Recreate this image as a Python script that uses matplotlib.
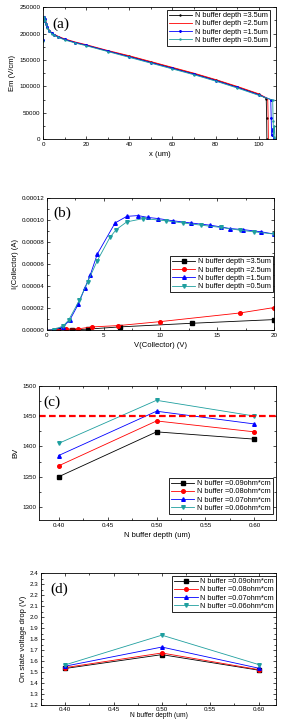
import numpy as np
import matplotlib
matplotlib.use("Agg")
import matplotlib.pyplot as plt
import matplotlib.ticker as ticker

plt.rcParams['font.family'] = ['Liberation Sans', 'DejaVu Sans']

COLORS = ['black', 'red', 'blue', '#1f9f9f']

# (a) electric field along x
depth_labels = ["N buffer depth =3.5um", "N buffer depth =2.5um",
                "N buffer depth =1.5um", "N buffer depth =0.5um"]
x_35 = [0, 0.3, 0.6, 1, 1.5, 2, 3, 4, 5, 7, 10, 15, 20, 30, 40, 50, 60, 70, 80, 90, 100, 103.5, 103.7, 103.8]
em_35 = [188000, 224000, 232000, 227000, 219000, 212000, 205000, 201000, 198000, 194000, 189000, 183000,
         178000, 167000, 157000, 146000, 135000, 124000, 112000, 99000, 85000, 77000, 40000, 0]
x_25 = [0, 0.3, 0.6, 1, 1.5, 2, 3, 4, 5, 7, 10, 15, 20, 30, 40, 50, 60, 70, 80, 90, 100, 104.2, 104.4, 104.5]
em_25 = [189000, 225000, 233000, 228000, 220000, 213000, 206000, 202000, 199000, 195000, 190000, 184000,
         179000, 168000, 158000, 147000, 136000, 125000, 113000, 100000, 86000, 77000, 38000, 0]
x_15 = [0, 0.3, 0.6, 1, 1.5, 2, 3, 4, 5, 7, 10, 15, 20, 30, 40, 50, 60, 70, 80, 90, 100, 105.6, 105.8, 106.0, 106.5, 107.0]
em_15 = [187000, 224000, 232000, 227000, 219000, 212000, 205000, 201000, 198000, 194000, 189000, 183000,
         178000, 167000, 156000, 145000, 134000, 123000, 111000, 98000, 84000, 75000, 40000, 8000, 20000, 0]
x_05 = [0, 0.3, 0.6, 1, 1.5, 2, 3, 4, 5, 7, 10, 15, 20, 30, 40, 50, 60, 70, 80, 90, 100, 106.5, 106.7, 106.9, 107.3, 107.6]
em_05 = [186000, 223000, 231000, 226000, 218000, 211000, 204000, 200000, 197000, 193000, 188000, 182000,
         177000, 166000, 155000, 144000, 133000, 122000, 110000, 97000, 83000, 74000, 35000, 5000, 25000, 0]

# (b) collector current vs collector voltage
v_35 = [0, 1.0, 2.2, 3.6, 6.4, 12.8, 20]
i_35 = [0, 0.01e-5, 0.03e-5, 0.1e-5, 0.3e-5, 0.63e-5, 0.96e-5]
v_25 = [0, 0.85, 1.7, 2.7, 4.0, 6.3, 10.0, 17.0, 20.0]
i_25 = [0, 0.06e-5, 0.1e-5, 0.12e-5, 0.3e-5, 0.42e-5, 0.78e-5, 1.56e-5, 2.05e-5]
v_15 = [0, 0.56, 1.44, 2.03, 2.76, 3.35, 3.8, 4.44, 6.0, 7.03, 8.03, 8.9, 9.8, 11.1, 12.7, 14.4,
        15.3, 16.1, 17.3, 18.9, 20.0]
i_15 = [0, 0.03e-5, 0.3e-5, 0.96e-5, 2.35e-5, 3.85e-5, 4.96e-5, 6.9e-5, 9.7e-5, 10.3e-5, 10.37e-5,
        10.2e-5, 10.1e-5, 9.9e-5, 9.7e-5, 9.5e-5, 9.35e-5, 9.2e-5, 9.1e-5, 8.9e-5, 8.7e-5]
v_05 = [0, 0.6, 1.44, 1.9, 2.85, 3.6, 4.44, 5.55, 6.1, 7.03, 8.5, 10.5, 12.0, 13.6, 15.3, 17.0, 18.2, 20.0]
i_05 = [0, 0.03e-5, 0.4e-5, 0.9e-5, 2.7e-5, 4.4e-5, 6.3e-5, 8.4e-5, 9.1e-5, 9.8e-5, 10.1e-5, 9.9e-5,
        9.7e-5, 9.5e-5, 9.3e-5, 9.05e-5, 8.9e-5, 8.7e-5]

# (c), (d) breakdown voltage and on-state drop vs buffer depth
res_labels = ["N buffer =0.09ohm*cm", "N buffer =0.08ohm*cm",
              "N buffer =0.07ohm*cm", "N buffer =0.06ohm*cm"]
depth = [0.40, 0.50, 0.60]
bv = [[1350, 1424, 1412],
      [1368, 1442, 1424],
      [1385, 1458, 1437],
      [1405, 1476, 1450]]
bv_limit = 1450
von = [[1.532, 1.658, 1.517],
       [1.540, 1.673, 1.522],
       [1.553, 1.727, 1.535],
       [1.565, 1.835, 1.568]]

MARKERS = ['s', 'o', '^', 'v']


def style(ax):
    ax.tick_params(which='both', direction='in', top=True, right=True, labelsize=4.5,
                   width=0.5, pad=2)
    ax.tick_params(which='major', length=2.5)
    ax.tick_params(which='minor', length=1.3)
    for s in ax.spines.values():
        s.set_linewidth(0.6)


def panel_label(ax, txt, x, y):
    ax.text(x, y, txt, transform=ax.transAxes, fontsize=11, family='Liberation Serif',
            va='center', ha='left')


def legend(ax, labels_loc, anchor):
    leg = ax.legend(loc=labels_loc, bbox_to_anchor=anchor, fontsize=5.3, frameon=True,
                    fancybox=False, edgecolor='black', framealpha=1, handlelength=3.2,
                    handletextpad=0.4, labelspacing=0.15, borderpad=0.25, borderaxespad=0)
    leg.get_frame().set_linewidth(0.6)


fig = plt.figure(figsize=(2.83, 7.21), dpi=100)

# (a)
axa = fig.add_axes([0.152, 0.807, 0.823, 0.183])
xs = [x_35, x_25, x_15, x_05]
ys = [em_35, em_25, em_15, em_05]
mk_a = ['+', '', '*', '.']
for i in range(4):
    axa.plot(xs[i], ys[i], color=COLORS[i], lw=0.6, marker=mk_a[i] if mk_a[i] else None,
             ms=1.5, label=depth_labels[i])
axa.set_xlim(0, 108)
axa.set_ylim(0, 250000)
axa.xaxis.set_major_locator(ticker.MultipleLocator(20))
axa.xaxis.set_minor_locator(ticker.MultipleLocator(10))
axa.yaxis.set_major_locator(ticker.MultipleLocator(50000))
axa.yaxis.set_minor_locator(ticker.MultipleLocator(25000))
axa.set_xlabel("x (um)", fontsize=5.5, labelpad=3)
axa.set_ylabel("Em (V/cm)", fontsize=5.5, labelpad=2)
style(axa)
legend(axa, 'upper right', (0.974, 0.977))
panel_label(axa, "(a)", 0.04, 0.87)

# (b)
axb = fig.add_axes([0.166, 0.542, 0.802, 0.184])
vs = [v_35, v_25, v_15, v_05]
cur = [i_35, i_25, i_15, i_05]
for i in range(4):
    axb.plot(vs[i], cur[i], color=COLORS[i], lw=0.6, marker=MARKERS[i], ms=2.6,
             markevery=list(range(1, len(vs[i]))), label=depth_labels[i])
axb.set_xlim(0, 20)
axb.set_ylim(0, 0.00012)
axb.xaxis.set_major_locator(ticker.MultipleLocator(5))
axb.xaxis.set_minor_locator(ticker.MultipleLocator(2.5))
axb.yaxis.set_major_locator(ticker.MultipleLocator(0.00002))
axb.yaxis.set_minor_locator(ticker.MultipleLocator(0.00001))
axb.yaxis.set_major_formatter(ticker.FormatStrFormatter('%.5f'))
axb.set_xlabel("V(Collector) (V)", fontsize=5.5, labelpad=3)
axb.set_ylabel("I(Collector) (A)", fontsize=5.5, labelpad=2)
style(axb)
legend(axb, 'upper right', (0.996, 0.556))
panel_label(axb, "(b)", 0.03, 0.88)

# (c)
axc = fig.add_axes([0.138, 0.279, 0.837, 0.186])
for i in range(4):
    axc.plot(depth, bv[i], color=COLORS[i], lw=0.6, marker=MARKERS[i], ms=2.6, label=res_labels[i])
axc.axhline(bv_limit, color='red', lw=1.6, ls=(0, (3, 1.5)))
axc.set_xlim(0.38, 0.622)
axc.set_ylim(1279, 1500)
axc.xaxis.set_major_locator(ticker.MultipleLocator(0.05))
axc.xaxis.set_minor_locator(ticker.MultipleLocator(0.025))
axc.xaxis.set_major_formatter(ticker.FormatStrFormatter('%.2f'))
axc.yaxis.set_major_locator(ticker.MultipleLocator(50))
axc.yaxis.set_minor_locator(ticker.MultipleLocator(25))
axc.set_xlabel("N buffer depth (um)", fontsize=5.5, labelpad=3)
axc.set_ylabel("BV", fontsize=5.5, labelpad=2)
style(axc)
legend(axc, 'lower right', (0.987, 0.045))
panel_label(axc, "(c)", 0.02, 0.88)

# (d)
axd = fig.add_axes([0.145, 0.0222, 0.830, 0.183])
for i in range(4):
    axd.plot(depth, von[i], color=COLORS[i], lw=0.6, marker=MARKERS[i], ms=2.6, label=res_labels[i])
axd.set_xlim(0.375, 0.618)
axd.set_ylim(1.2, 2.4)
axd.xaxis.set_major_locator(ticker.MultipleLocator(0.05))
axd.xaxis.set_minor_locator(ticker.MultipleLocator(0.025))
axd.xaxis.set_major_formatter(ticker.FormatStrFormatter('%.2f'))
axd.yaxis.set_major_locator(ticker.MultipleLocator(0.1))
axd.yaxis.set_minor_locator(ticker.MultipleLocator(0.05))
axd.yaxis.set_major_formatter(ticker.FormatStrFormatter('%.1f'))
axd.set_ylabel("On state voltage drop (V)", fontsize=5.5, labelpad=2)
style(axd)
axd.tick_params(axis='x', pad=1.2)
axd.set_xlabel("N buffer depth (um)", fontsize=4.8, labelpad=0.3)
legend(axd, 'upper right', (1.0, 0.977))
panel_label(axd, "(d)", 0.04, 0.88)

fig.savefig("out.png", dpi=100)
